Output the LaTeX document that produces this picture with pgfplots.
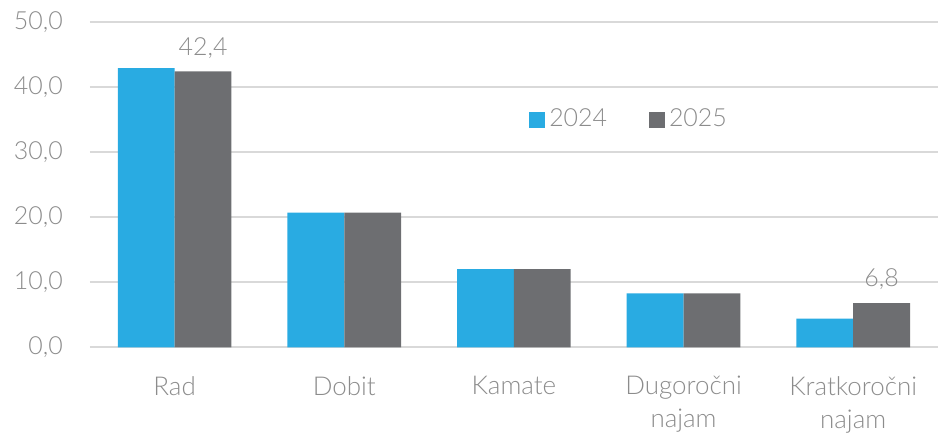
\documentclass[border=0pt]{standalone}
\usepackage{pgfplots}
\pgfplotsset{compat=1.18}
\usepackage{fontspec}
\setmainfont{Lato Light}
\definecolor{cblue}{RGB}{41,171,226}
\definecolor{cgray}{RGB}{109,110,113}
\definecolor{tgray}{RGB}{140,140,140}
\definecolor{ggray}{RGB}{217,217,217}
\begin{document}
\begin{tikzpicture}
\begin{axis}[
  scale only axis,
  width=425pt, height=163pt,
  xmin=-0.5, xmax=4.5, ymin=0, ymax=50,
  clip=false,
  ybar=0pt, bar width=0.335,
  xtick={0,1,2,3,4},
  xticklabels={Rad,Dobit,Kamate,{Dugoročni\\najam},{Kratkoročni\\najam}},
  xticklabel style={align=center, font=\fontsize{13}{16.5}\selectfont, text=tgray, yshift=-11pt},
  ytick={0,10,20,30,40,50},
  yticklabel style={font=\fontsize{12.5}{14}\selectfont, text=tgray, xshift=-10pt},
  /pgf/number format/.cd, fixed, fixed zerofill, precision=1, use comma, assume math mode=true,
  /pgfplots/.cd,
  major tick length=0pt,
  axis line style={draw=none},
  ymajorgrids, grid style={ggray, line width=1pt},
  legend style={draw=none, fill=none, at={(0.637,0.70)}, anchor=center,
    font=\fontsize{12.5}{14}\selectfont, text=tgray,
    /tikz/every even column/.append style={column sep=19pt}},
  legend columns=2,
  legend image code/.code={\fill[#1] (0pt,-4pt) rectangle (8pt,4pt);},
  point meta=explicit symbolic,
  nodes near coords,
  every node near coord/.append style={font=\fontsize{12.5}{14}\selectfont, text=tgray, yshift=3pt},
]
\addplot[fill=cblue, draw=none] coordinates {(0,42.9) [] (1,20.7) [] (2,12.0) [] (3,8.3) [] (4,4.4) []};
\addplot[fill=cgray, draw=none] coordinates {(0,42.4) [{42,4}] (1,20.7) [] (2,12.0) [] (3,8.3) [] (4,6.8) [{6,8}]};
\legend{2024,2025}
\path (rel axis cs:0,0) ++(-45pt,-44pt) rectangle ++(469.5pt,218pt);
\end{axis}
\end{tikzpicture}
\end{document}
